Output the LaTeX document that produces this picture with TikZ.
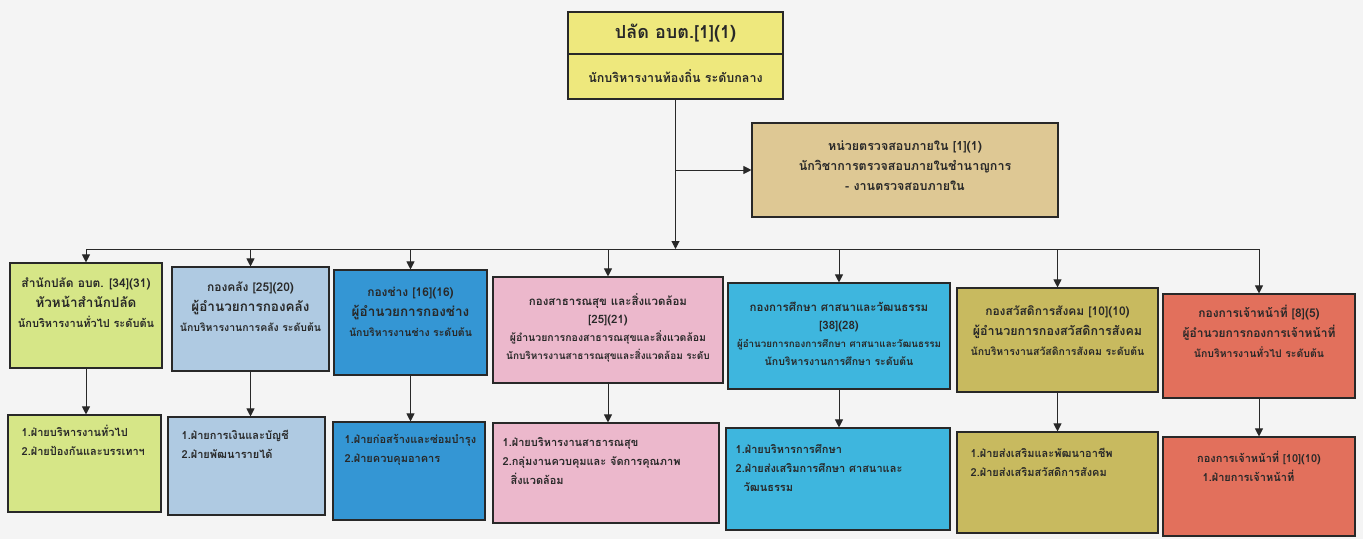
\documentclass[tikz,border=0pt]{standalone}
\usepackage{fontspec}
\setmainfont[Script=Thai]{Loma}
\usetikzlibrary{arrows.meta}
\definecolor{bg}{RGB}{244,244,244}
\definecolor{ctop}{RGB}{238,232,125}
\definecolor{caudit}{RGB}{222,200,148}
\definecolor{cone}{RGB}{214,230,135}
\definecolor{ctwo}{RGB}{175,202,226}
\definecolor{cthree}{RGB}{52,150,212}
\definecolor{cfour}{RGB}{236,184,204}
\definecolor{cfive}{RGB}{62,182,222}
\definecolor{csix}{RGB}{200,186,95}
\definecolor{cseven}{RGB}{226,112,92}
\definecolor{ink}{RGB}{40,40,40}
\tikzset{
  box/.style={draw=ink, line width=1.1pt, inner sep=0pt},
  conn/.style={draw=ink, line width=1pt},
  arr/.style={conn, -{Triangle[length=8pt,width=8pt]}},
  lblA/.style={inner sep=0pt, text=ink, align=center, anchor=north, font=\bfseries\fontsize{12}{20}\selectfont},
  lblB/.style={inner sep=0pt, text=ink, align=center, anchor=north, font=\bfseries\fontsize{11.5}{18}\selectfont},
  lblC/.style={inner sep=0pt, text=ink, align=left, anchor=north west, font=\bfseries\fontsize{11}{19}\selectfont},
}
\begin{document}
\begin{tikzpicture}[x=1pt,y=-1pt]
\fill[bg] (0,0) rectangle (1363,539);
\useasboundingbox (0,0) rectangle (1363,539);

% top
\node[box, fill=ctop, minimum width=215pt, minimum height=42pt] (topA) at (675.5,33) {};
\node[box, fill=ctop, minimum width=215pt, minimum height=45pt] (topB) at (675.5,76.5) {};
\node[inner sep=0pt, text=ink, font=\bfseries\fontsize{18}{20}\selectfont] (topAt) at (topA) {ปลัด อบต.[1](1)};
\node[inner sep=0pt, text=ink, font=\bfseries\fontsize{12.5}{14}\selectfont] (topBt) at (topB) {นักบริหารงานท้องถิ่น ระดับกลาง};

% audit
\node[box, fill=caudit, minimum width=306pt, minimum height=94pt] (audit) at (905,170) {};
\node[lblA, font=\bfseries\fontsize{12.5}{20}\selectfont] (auditt) at ([yshift=-14pt]audit.north) {\strut หน่วยตรวจสอบภายใน [1](1)\\ นักวิชาการตรวจสอบภายในชำนาญการ\\ - งานตรวจสอบภายใน};

% row 1
\node[box, fill=cone,   minimum width=152pt, minimum height=105pt] (b1) at (86,315.5) {};
\node[box, fill=ctwo,   minimum width=157pt, minimum height=104pt] (b2) at (250.5,319) {};
\node[box, fill=cthree, minimum width=153pt, minimum height=105pt] (b3) at (410.5,322.5) {};
\node[box, fill=cfour,  minimum width=230pt, minimum height=106pt] (b4) at (608,330) {};
\node[box, fill=cfive,  minimum width=222pt, minimum height=106pt] (b5) at (839,336) {};
\node[box, fill=csix,   minimum width=201pt, minimum height=104pt] (b6) at (1057.5,340) {};
\node[box, fill=cseven, minimum width=192pt, minimum height=104pt] (b7) at (1259,346) {};

\node[lblA] (b1t) at ([yshift=-11pt]b1.north) {\strut สำนักปลัด อบต. [34](31)\\ {\fontsize{13.5}{20}\selectfont หัวหน้าสำนักปลัด}\\ {\fontsize{11}{20}\selectfont นักบริหารงานทั่วไป ระดับต้น}};
\node[lblA] (b2t) at ([yshift=-11pt]b2.north) {\strut กองคลัง [25](20)\\ {\fontsize{13.5}{20}\selectfont ผู้อำนวยการกองคลัง}\\ {\fontsize{10.5}{20}\selectfont นักบริหารงานการคลัง ระดับต้น}};
\node[lblA] (b3t) at ([yshift=-13pt]b3.north) {\strut กองช่าง [16](16)\\ {\fontsize{13.5}{20}\selectfont ผู้อำนวยการกองช่าง}\\ {\fontsize{10.5}{20}\selectfont นักบริหารงานช่าง ระดับต้น}};
\node[lblB] (b4t) at ([yshift=-16pt]b4.north) {\strut กองสาธารณสุข และสิ่งแวดล้อม\\ {[25](21)}\\ {\fontsize{10.5}{18}\selectfont ผู้อำนวยการกองสาธารณสุขและสิ่งแวดล้อม}\\ {\fontsize{10}{18}\selectfont นักบริหารงานสาธารณสุขและสิ่งแวดล้อม ระดับ}};
\node[lblB] (b5t) at ([yshift=-16pt]b5.north) {\strut กองการศึกษา ศาสนาและวัฒนธรรม\\ {[38](28)}\\ {\fontsize{9.8}{18}\selectfont ผู้อำนวยการกองการศึกษา ศาสนาและวัฒนธรรม}\\ {\fontsize{10.5}{18}\selectfont นักบริหารงานการศึกษา ระดับต้น}};
\node[lblA] (b6t) at ([yshift=-14pt]b6.north) {\strut กองสวัสดิการสังคม [10](10)\\ {\fontsize{12.5}{20}\selectfont ผู้อำนวยการกองสวัสดิการสังคม}\\ {\fontsize{10.5}{20}\selectfont นักบริหารงานสวัสดิการสังคม ระดับต้น}};
\node[lblA] (b7t) at ([yshift=-10pt]b7.north) {\strut กองการเจ้าหน้าที่ [8](5)\\ {\fontsize{12}{20}\selectfont ผู้อำนวยการกองการเจ้าหน้าที่}\\ {\fontsize{10.5}{20}\selectfont นักบริหารงานทั่วไป ระดับต้น}};

% row 2
\node[box, fill=cone,   minimum width=153pt, minimum height=97pt]  (c1) at (84.5,463.5) {};
\node[box, fill=ctwo,   minimum width=157pt, minimum height=98pt]  (c2) at (246.5,466) {};
\node[box, fill=cthree, minimum width=152pt, minimum height=98pt]  (c3) at (409,471) {};
\node[box, fill=cfour,  minimum width=226pt, minimum height=100pt] (c4) at (606,473) {};
\node[box, fill=cfive,  minimum width=224pt, minimum height=102pt] (c5) at (838,479) {};
\node[box, fill=csix,   minimum width=201pt, minimum height=101pt] (c6) at (1057.5,482.5) {};
\node[box, fill=cseven, minimum width=192pt, minimum height=99pt]  (c7) at (1259,486.5) {};

\node[lblC] (c1t) at ([xshift=14pt,yshift=-9pt]c1.north west) {\strut 1.ฝ่ายบริหารงานทั่วไป\\ 2.ฝ่ายป้องกันและบรรเทาฯ};
\node[lblC] (c2t) at ([xshift=14pt,yshift=-10pt]c2.north west) {\strut 1.ฝ่ายการเงินและบัญชี\\ 2.ฝ่ายพัฒนารายได้};
\node[lblC] (c3t) at ([xshift=12pt,yshift=-9pt]c3.north west) {\strut 1.ฝ่ายก่อสร้างและซ่อมบำรุง\\ 2.ฝ่ายควบคุมอาคาร};
\node[lblC] (c4t) at ([xshift=10pt,yshift=-11pt]c4.north west) {\strut 1.ฝ่ายบริหารงานสาธารณสุข\\ 2.กลุ่มงานควบคุมและ จัดการคุณภาพ\\ \hspace*{8pt}สิ่งแวดล้อม};
\node[lblC] (c5t) at ([xshift=10pt,yshift=-13pt]c5.north west) {\strut 1.ฝ่ายบริหารการศึกษา\\ 2.ฝ่ายส่งเสริมการศึกษา ศาสนาและ\\ \hspace*{8pt}วัฒนธรรม};
\node[lblC] (c6t) at ([xshift=14pt,yshift=-13pt]c6.north west) {\strut 1.ฝ่ายส่งเสริมและพัฒนาอาชีพ\\ 2.ฝ่ายส่งเสริมสวัสดิการสังคม};
\node[lblC, align=center, anchor=north] (c7h) at ([yshift=-13pt]c7.north) {\strut กองการเจ้าหน้าที่ [10](10)};
\node[lblC] (c7t) at ([xshift=40pt,yshift=-32pt]c7.north west) {\strut 1.ฝ่ายการเจ้าหน้าที่};

% connectors
\coordinate (busL) at (b1.north |- 0,249);
\coordinate (busR) at (b7.north |- 0,249);
\coordinate (busM) at (topB.south |- 0,249);
\draw[conn] (busL) -- (busR);
\draw[arr] (topB.south) -- (busM);
\draw[arr] (topB.south |- audit.west) -- (audit.west);
\foreach \i in {1,...,7}{
  \draw[arr] (b\i.north |- busL) -- (b\i.north);
  \draw[arr] (b\i.south) -- (b\i.south |- c\i.north);
}
\end{tikzpicture}
\end{document}
